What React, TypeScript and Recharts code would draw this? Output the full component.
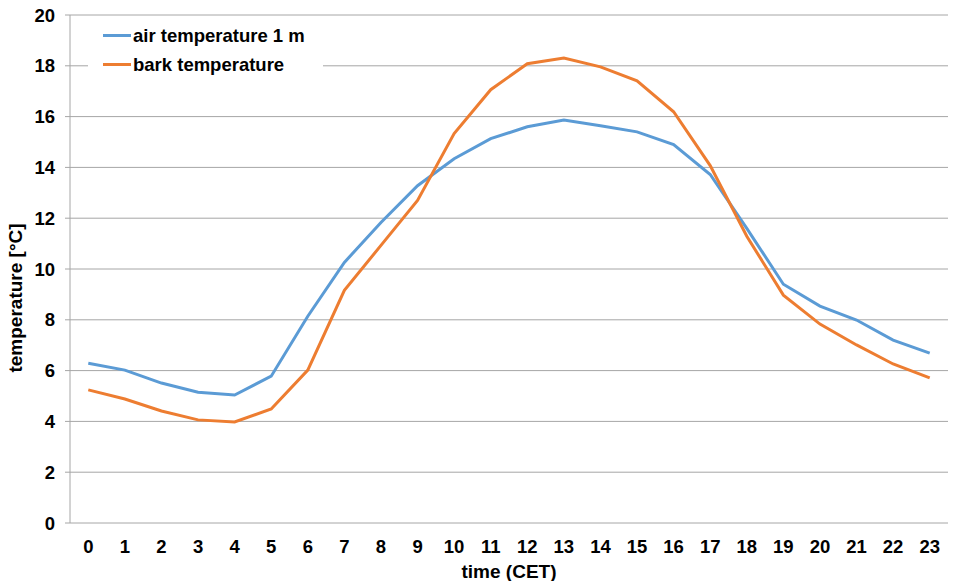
import React from 'react';
import { LineChart, Line, XAxis, YAxis, CartesianGrid } from 'recharts';

const hours = [0, 1, 2, 3, 4, 5, 6, 7, 8, 9, 10, 11, 12, 13, 14, 15, 16, 17, 18, 19, 20, 21, 22, 23];
const airTemp = [6.29, 6.02, 5.51, 5.15, 5.04, 5.78, 8.14, 10.26, 11.83, 13.28, 14.34, 15.13, 15.6, 15.87, 15.64, 15.4, 14.9, 13.72, 11.6, 9.4, 8.54, 7.99, 7.2, 6.69];
const barkTemp = [5.24, 4.88, 4.41, 4.06, 3.98, 4.49, 6.02, 9.16, 10.93, 12.7, 15.33, 17.06, 18.08, 18.31, 17.96, 17.41, 16.19, 14.07, 11.29, 8.97, 7.83, 7.01, 6.26, 5.71];
const yTicks = [0, 2, 4, 6, 8, 10, 12, 14, 16, 18, 20];
const boundaryTicks = [-0.5, 0.5, 1.5, 2.5, 3.5, 4.5, 5.5, 6.5, 7.5, 8.5, 9.5, 10.5, 11.5, 12.5, 13.5, 14.5, 15.5, 16.5, 17.5, 18.5, 19.5, 20.5, 21.5, 22.5, 23.5];
const seriesNames = ['air temperature 1 m', 'bark temperature'];

const BLUE = '#5B9BD5';
const ORANGE = '#ED7D31';
const GRID = '#A6A6A6';
const FONT = 'Liberation Sans, Arial, sans-serif';

const data = hours.map((h, i) => ({ h, air: airTemp[i], bark: barkTemp[i] }));

const tickStyle = { fontSize: 18.5, fontWeight: 700, fill: '#000', fontFamily: FONT };

function LegendBox() {
  const colors = [BLUE, ORANGE];
  return (
    <div style={{ position: 'absolute', left: 88, top: 21, background: '#fff', padding: '0 18px 0 15px', fontFamily: FONT, fontWeight: 700, fontSize: 18.5 }}>
      {seriesNames.map((name, i) => (
        <div key={name} style={{ display: 'flex', alignItems: 'center', height: 29 }}>
          <span style={{ display: 'inline-block', width: 28, height: 3, background: colors[i], marginRight: 2 }} />
          <span>{name}</span>
        </div>
      ))}
    </div>
  );
}

function YTitle(props: any) {
  const vb = props.viewBox || { x: 0, y: 0, width: 0, height: 0 };
  const cx = 15;
  const cy = vb.y + vb.height / 2 + 29;
  return (
    <text x={cx} y={cy} transform={`rotate(-90, ${cx}, ${cy})`} textAnchor="middle" dominantBaseline="central" style={{ ...tickStyle, fontSize: 19 }}>
      temperature [°C]
    </text>
  );
}

export default function App() {
  return (
    <div style={{ position: 'absolute', left: 0, top: 0, width: 953, height: 581, background: '#fff' }}>
      <LineChart width={953} height={581} data={data} margin={{ top: 15, right: 5, bottom: 0, left: 0 }}>
        <CartesianGrid horizontal vertical={false} stroke={GRID} strokeWidth={1} />
        <XAxis
          xAxisId="lab"
          dataKey="h"
          type="number"
          domain={[-0.5, 23.5]}
          ticks={hours}
          interval={0}
          tickLine={false}
          axisLine={false}
          tick={tickStyle}
          tickMargin={12}
          tickSize={5}
          height={58}
          label={{ value: 'time (CET)', position: 'insideBottom', offset: 3, style: { ...tickStyle, fontSize: 19 } }}
        />
        <XAxis
          xAxisId="bnd"
          dataKey="h"
          type="number"
          domain={[-0.5, 23.5]}
          ticks={boundaryTicks}
          interval={0}
          tick={false}
          tickLine={{ stroke: GRID }}
          axisLine={{ stroke: GRID }}
          tickSize={5}
          height={0}
        />
        <YAxis
          domain={[0, 20]}
          ticks={yTicks}
          interval={0}
          width={70}
          tick={tickStyle}
          tickLine={{ stroke: GRID }}
          axisLine={{ stroke: GRID }}
          tickSize={5}
          tickMargin={10}
          label={<YTitle />}
        />
        <Line xAxisId="lab" dataKey="air" name={seriesNames[0]} stroke={BLUE} strokeWidth={3} dot={false} type="linear" isAnimationActive={false} />
        <Line xAxisId="lab" dataKey="bark" name={seriesNames[1]} stroke={ORANGE} strokeWidth={3} dot={false} type="linear" isAnimationActive={false} />
      </LineChart>
      <LegendBox />
    </div>
  );
}
